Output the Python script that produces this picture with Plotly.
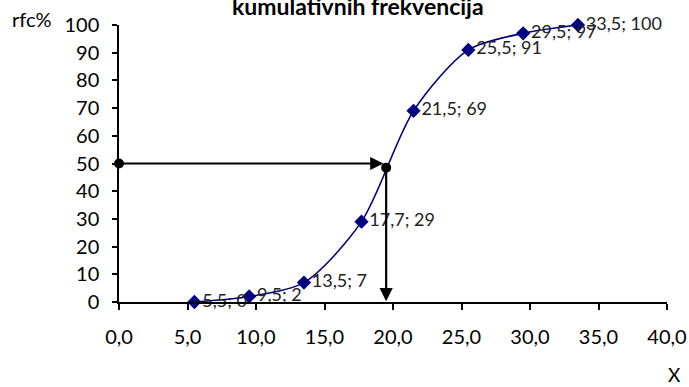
import plotly.graph_objects as go

# Data
x_vals = [5.5, 9.5, 13.5, 17.7, 21.5, 25.5, 29.5, 33.5]
rfc_vals = [0, 2, 7, 29, 69, 91, 97, 100]
point_labels = ["5,5; 0", "9,5; 2", "13,5; 7", "17,7; 29", "21,5; 69", "25,5; 91", "29,5; 97", "33,5; 100"]
x_ticks = [0, 5, 10, 15, 20, 25, 30, 35, 40]
x_tick_text = ["0,0", "5,0", "10,0", "15,0", "20,0", "25,0", "30,0", "35,0", "40,0"]
y_ticks = [0, 10, 20, 30, 40, 50, 60, 70, 80, 90, 100]
median_level = 50
median_x = 19.5
median_curve_y = 48.5

FONT = "Lato, 'Open Sans', sans-serif"

fig = go.Figure()

fig.add_trace(go.Scatter(
    x=x_vals, y=rfc_vals,
    mode="lines+markers+text",
    line=dict(color="#000080", width=1.6, shape="spline", smoothing=0.8),
    marker=dict(symbol="diamond", size=11, color="#000080"),
    text=point_labels,
    textposition="middle right",
    textfont=dict(family=FONT, size=18, color="#222222"),
    cliponaxis=False,
    showlegend=False,
    hoverinfo="skip",
))

# Black dots for median construction
fig.add_trace(go.Scatter(
    x=[0, median_x], y=[median_level, median_curve_y],
    mode="markers",
    marker=dict(symbol="circle", size=10, color="black"),
    cliponaxis=False,
    showlegend=False,
    hoverinfo="skip",
))

# Horizontal arrow
fig.add_annotation(
    x=median_x - 0.2, y=median_level, ax=0, ay=median_level,
    xref="x", yref="y", axref="x", ayref="y",
    showarrow=True, arrowhead=2, arrowsize=1.2, arrowwidth=2.2, arrowcolor="black",
    text="",
)
# Vertical arrow
fig.add_annotation(
    x=median_x, y=0.3, ax=median_x, ay=median_curve_y,
    xref="x", yref="y", axref="x", ayref="y",
    showarrow=True, arrowhead=2, arrowsize=1.2, arrowwidth=2.2, arrowcolor="black",
    text="",
)

# Texts
fig.add_annotation(text="rfc%", xref="paper", yref="paper", x=-0.158, y=1.022,
                   xanchor="center", yanchor="middle", showarrow=False,
                   font=dict(family=FONT, size=20, color="black"))
fig.add_annotation(text="X", xref="paper", yref="paper", x=1.013, y=-0.262,
                   xanchor="center", yanchor="middle", showarrow=False,
                   font=dict(family=FONT, size=19, color="black"))
fig.add_annotation(text="<b>kumulativnih frekvencija</b>", xref="paper", yref="paper",
                   x=0.437, y=1.07, xanchor="center", yanchor="middle", showarrow=False,
                   font=dict(family=FONT, size=23, color="black"))

fig.update_layout(
    width=689, height=387,
    margin=dict(l=119, r=22, t=25, b=85),
    paper_bgcolor="white", plot_bgcolor="white",
    font=dict(family=FONT, size=20, color="black"),
    xaxis=dict(
        range=[0, 40], tickvals=x_ticks, ticktext=x_tick_text,
        showgrid=False, zeroline=False, automargin=False,
        showline=True, linecolor="black", linewidth=1.5,
        ticks="outside", ticklen=6, tickcolor="black", tickwidth=1.5,
        ticklabelstandoff=10,
        tickfont=dict(family=FONT, size=20, color="black"),
    ),
    yaxis=dict(
        range=[0, 100], tickvals=y_ticks,
        showgrid=False, zeroline=False, automargin=False,
        showline=True, linecolor="black", linewidth=1.5,
        ticks="outside", ticklen=5, tickcolor="black", tickwidth=1.5,
        ticklabelstandoff=9,
        tickfont=dict(family=FONT, size=20, color="black"),
    ),
)

fig.write_html("out.html")
